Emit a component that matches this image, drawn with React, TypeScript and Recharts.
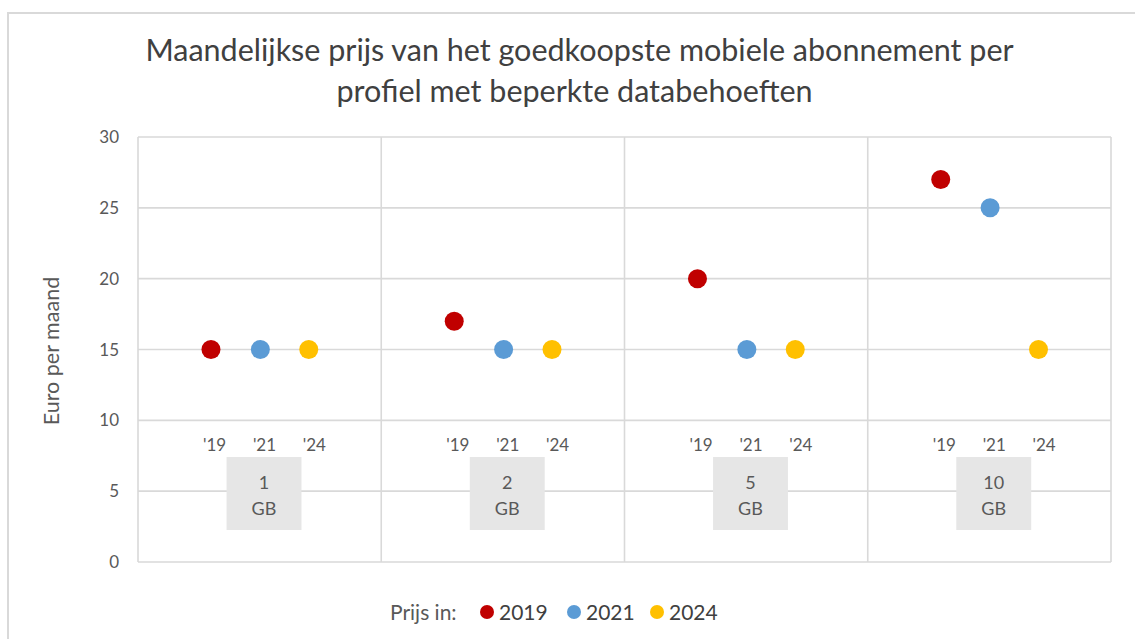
import React from 'react';
import {
  ScatterChart,
  Scatter,
  XAxis,
  YAxis,
  CartesianGrid,
  ReferenceArea,
  ReferenceDot,
} from 'recharts';

// data volumes (GB) per panel
const bundles = ['1', '2', '5', '10'];
const prices2019 = [15, 17, 20, 27];
const prices2021 = [15, 15, 15, 25];
const prices2024 = [15, 15, 15, 15];
const yearLabels = ["'19", "'21", "'24"];
const legendYears = ['2019', '2021', '2024'];
const yTicks = [0, 5, 10, 15, 20, 25, 30];

const COLORS = ['#C00000', '#5B9BD5', '#FFC000'];
const FONT = 'Lato, "Open Sans", sans-serif';
const TEXT = '#595959';

// horizontal spot of each year inside its panel
const pointOffsets = [0.3, 0.503, 0.702];
const labelOffsets = [0.315, 0.52, 0.725];
const legendLeft = [487, 574, 657];

const seriesValues = [prices2019, prices2021, prices2024];
const seriesData = seriesValues.map((vals, s) =>
  bundles.map((b, i) => ({ x: i + pointOffsets[s], y: vals[i], bundle: b }))
);

const Dot = (color: string) => (props: any) => (
  <circle cx={props.cx} cy={props.cy} r={9.5} fill={color} />
);

const BoxLabel = (bundle: string) => (props: any) => {
  const vb = props.viewBox || {};
  const cx = vb.x + vb.width / 2;
  return (
    <g>
      <text x={cx} y={vb.y + 25} textAnchor="middle" dominantBaseline="central" fill={TEXT} fontSize={18} fontFamily={FONT}>
        {bundle}
      </text>
      <text x={cx} y={vb.y + 51} textAnchor="middle" dominantBaseline="central" fill={TEXT} fontSize={18} fontFamily={FONT}>
        GB
      </text>
    </g>
  );
};

const YearTick = (label: string) => (props: any) => (
  <text x={props.cx} y={props.cy + 1} textAnchor="middle" dominantBaseline="central" fill={TEXT} fontSize={17} fontFamily={FONT}>
    {label}
  </text>
);

const LegendBox = () => (
  <div style={{ position: 'absolute', left: 0, top: 598, width: 1135, height: 28, fontFamily: FONT, fontSize: 21, color: TEXT }}>
    <span style={{ position: 'absolute', left: 390, top: 0, lineHeight: '28px' }}>Prijs in:</span>
    {legendYears.map((y, i) => (
      <React.Fragment key={y}>
        <svg width={16} height={16} style={{ position: 'absolute', left: legendLeft[i] - 8, top: 6 }}>
          <circle cx={8} cy={8} r={7} fill={COLORS[i]} />
        </svg>
        <span style={{ position: 'absolute', left: legendLeft[i] + 12, top: 0, lineHeight: '28px', color: '#404040' }}>{y}</span>
      </React.Fragment>
    ))}
  </div>
);

export default function App() {
  return (
    <div style={{ position: 'absolute', left: 0, top: 0, width: 1135, height: 639, overflow: 'hidden', background: '#fff' }}>
      <div
        style={{
          position: 'absolute',
          left: 7,
          top: 12,
          width: 1128,
          height: 627,
          borderTop: '2px solid #D9D9D9',
          borderLeft: '2px solid #D9D9D9',
          boxSizing: 'border-box',
        }}
      />
      <div style={{ position: 'absolute', left: 0, top: 0, width: 1135, textAlign: 'center', fontFamily: FONT, fontSize: 30.5, color: '#404040', lineHeight: '41px', paddingTop: 29 }}>
        <div style={{ paddingLeft: 24 }}>Maandelijkse prijs van het goedkoopste mobiele abonnement per</div>
        <div style={{ paddingLeft: 14 }}>profiel met beperkte databehoeften</div>
      </div>
      <div
        style={{
          position: 'absolute',
          left: 51,
          top: 351,
          transform: 'translate(-50%, -50%) rotate(-90deg)',
          fontFamily: FONT,
          fontSize: 21.5,
          color: TEXT,
          whiteSpace: 'nowrap',
        }}
      >
        Euro per maand
      </div>
      <div style={{ position: 'absolute', left: 0, top: 0 }}>
        <ScatterChart width={1135} height={639} margin={{ top: 137, right: 24, bottom: 77, left: 0 }} style={{ fontFamily: FONT }}>
          <CartesianGrid stroke="#D9D9D9" strokeWidth={1.6} />
          <XAxis type="number" dataKey="x" domain={[0, 4]} ticks={[0, 1, 2, 3, 4]} hide />
          <YAxis
            type="number"
            dataKey="y"
            domain={[0, 30]}
            ticks={yTicks}
            width={138}
            axisLine={false}
            tickLine={false}
            tickSize={6}
            tickMargin={13}
            tick={{ fill: TEXT, fontSize: 17, fontFamily: FONT }}
          />
          {bundles.map((b, i) => (
            <ReferenceArea
              key={'box' + b}
              x1={i + 0.364}
              x2={i + 0.672}
              y1={2.26}
              y2={7.41}
              fill="#E6E6E6"
              fillOpacity={1}
              stroke="none"
              label={BoxLabel(b)}
            />
          ))}
          {bundles.map((b, i) =>
            yearLabels.map((yl, s) => (
              <ReferenceDot key={b + yl} x={i + labelOffsets[s]} y={8.33} r={0} shape={YearTick(yl)} />
            ))
          )}
          {seriesData.map((d, s) => (
            <Scatter key={legendYears[s]} name={legendYears[s]} data={d} fill={COLORS[s]} shape={Dot(COLORS[s])} isAnimationActive={false} />
          ))}
        </ScatterChart>
      </div>
      <LegendBox />
    </div>
  );
}
